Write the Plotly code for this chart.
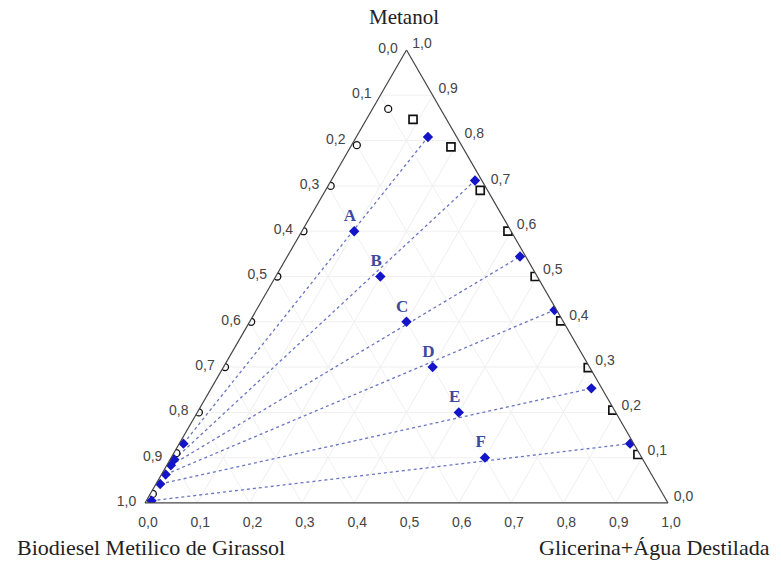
import plotly.graph_objects as go

# ---- data (a = Metanol, b = Biodiesel, c = Glicerina+Água) ----
# binodal points, biodiesel-rich side (open circles)
circ_met = [0.87, 0.79, 0.70, 0.60, 0.50, 0.40, 0.30, 0.20, 0.11, 0.02]
circ_bio = [0.10, 0.20, 0.295, 0.397, 0.497, 0.597, 0.697, 0.797, 0.885, 0.975]
circ_gli = [0.03, 0.01, 0.005, 0.003, 0.003, 0.003, 0.003, 0.003, 0.005, 0.005]

# binodal points, glycerin-rich side (open squares)
sq_met = [0.847, 0.786, 0.690, 0.600, 0.500, 0.402, 0.299, 0.205, 0.107]
sq_bio = [0.064, 0.022, 0.014, 0.006, 0.004, 0.004, 0.003, 0.003, 0.004]
sq_gli = [0.089, 0.192, 0.296, 0.394, 0.496, 0.594, 0.698, 0.792, 0.889]

# tie-line ends, glycerin-rich phase
tr_met = [0.808, 0.712, 0.544, 0.426, 0.253, 0.131]
tr_bio = [0.055, 0.013, 0.011, 0.004, 0.020, 0.007]
tr_gli = [0.137, 0.275, 0.445, 0.570, 0.727, 0.862]

# tie-line ends, biodiesel-rich phase
tl_met = [0.131, 0.096, 0.083, 0.063, 0.042, 0.005]
tl_bio = [0.861, 0.896, 0.909, 0.929, 0.950, 0.985]
tl_gli = [0.008, 0.008, 0.008, 0.008, 0.008, 0.010]

# overall (feed) compositions
feed_lbl = ["A", "B", "C", "D", "E", "F"]
feed_met = [0.6, 0.5, 0.4, 0.3, 0.2, 0.1]
feed_bio = [0.3, 0.3, 0.3, 0.3, 0.3, 0.3]
feed_gli = [0.1, 0.2, 0.3, 0.4, 0.5, 0.6]

tick_vals = [0.0, 0.1, 0.2, 0.3, 0.4, 0.5, 0.6, 0.7, 0.8, 0.9, 1.0]
tick_text = ["1,0", "0,9", "0,8", "0,7", "0,6", "0,5", "0,4", "0,3", "0,2", "0,1", "0,0"]

# ---- figure ----
BLUE = "#1414c8"
LINE = "#6a76c2"

fig = go.Figure()

# tie lines
for i in range(len(tl_met)):
    fig.add_trace(go.Scatterternary(
        a=[tl_met[i], tr_met[i]], b=[tl_bio[i], tr_bio[i]], c=[tl_gli[i], tr_gli[i]],
        mode="lines", line=dict(color=LINE, width=1.3, dash="dot"),
        hoverinfo="skip", showlegend=False))

fig.add_trace(go.Scatterternary(
    a=circ_met, b=circ_bio, c=circ_gli, mode="markers",
    marker=dict(symbol="circle-open", size=7, color="#111111", line=dict(width=1.3)),
    showlegend=False))

fig.add_trace(go.Scatterternary(
    a=sq_met, b=sq_bio, c=sq_gli, mode="markers",
    marker=dict(symbol="square-open", size=8, color="#111111", line=dict(width=1.7)),
    showlegend=False))

fig.add_trace(go.Scatterternary(
    a=tr_met + tl_met, b=tr_bio + tl_bio, c=tr_gli + tl_gli, mode="markers",
    marker=dict(symbol="diamond", size=8, color=BLUE, line=dict(width=0)),
    showlegend=False))

fig.add_trace(go.Scatterternary(
    a=feed_met, b=feed_bio, c=feed_gli, mode="markers+text",
    text=[s + "\u2002" for s in feed_lbl], textposition="top center",
    textfont=dict(family="Liberation Serif", size=17, color="#3c4a9e", weight="bold"),
    marker=dict(symbol="diamond", size=8, color=BLUE, line=dict(width=0)),
    showlegend=False))

axis_common = dict(
    tickmode="array", tickvals=tick_vals, ticktext=tick_text,
    tickfont=dict(family="Liberation Sans", size=14, color="#444444"),
    showgrid=True, gridcolor="#f0f0f0", gridwidth=1,
    showline=True, linecolor="#444444", linewidth=1.2,
    ticks="outside", ticklen=6, tickcolor="rgba(0,0,0,0)",
    title=dict(text=""), min=0,
)

fig.update_layout(
    width=781, height=563,
    margin=dict(l=145, r=113, t=50, b=60),
    paper_bgcolor="white",
    ternary=dict(
        sum=1, bgcolor="white",
        aaxis=axis_common, baxis=axis_common, caxis=axis_common,
    ),
    showlegend=False,
    annotations=[
        dict(text="Metanol", xref="paper", yref="paper", x=0.495, y=1.073,
             xanchor="center", yanchor="middle", showarrow=False,
             font=dict(family="Liberation Serif", size=21, color="#222222")),
        dict(text="Biodiesel Metilico de Girassol", xref="paper", yref="paper",
             x=0.0115, y=-0.099, xanchor="center", yanchor="middle", showarrow=False,
             font=dict(family="Liberation Serif", size=22, color="#222222")),
        dict(text="Glicerina+Água Destilada", xref="paper", yref="paper",
             x=0.975, y=-0.099, xanchor="center", yanchor="middle", showarrow=False,
             font=dict(family="Liberation Serif", size=22, color="#222222")),
    ],
)

fig.write_html("out.html")
